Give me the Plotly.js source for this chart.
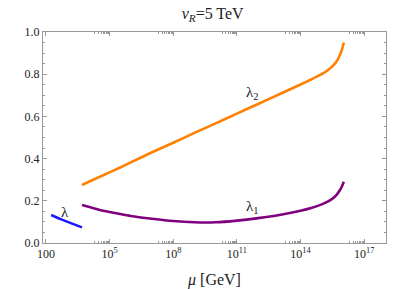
<!DOCTYPE html>
<html>
<head>
<meta charset="utf-8">
<script src="https://cdn.plot.ly/plotly-3.0.1.min.js"></script>
<style>
  html, body { margin: 0; padding: 0; background: #fff; }
  #plot { width: 409px; height: 289px; }
</style>
</head>
<body>
<div id="plot"></div>
<script>
// running couplings (mu in GeV)
var muLam = [175, 500, 1600, 5000];
var lam = [0.133, 0.113, 0.093, 0.074];

var muHigh = [5e3, 1e4, 3.16e4, 1e5, 3.16e5, 1e6, 1e7, 1e8, 1e9, 1e10, 1e11, 1e12, 1e13, 1e14,
              3.16e14, 1e15, 2e15, 3.16e15, 5e15, 7.1e15, 8.9e15, 1.1e16];
var lam1 = [0.18, 0.172, 0.158, 0.147, 0.137, 0.128, 0.115, 0.104, 0.098, 0.098, 0.106, 0.118, 0.133, 0.153,
            0.166, 0.183, 0.197, 0.21, 0.228, 0.25, 0.268, 0.29];
var lam2 = [0.275, 0.289, 0.312, 0.335, 0.358, 0.382, 0.43, 0.475, 0.522, 0.567, 0.613, 0.659, 0.705, 0.751,
            0.775, 0.80, 0.82, 0.837, 0.86, 0.89, 0.915, 0.95];

var xTickVals = [1e2, 1e5, 1e8, 1e11, 1e14, 1e17];
var xTickText = ["100", "10<sup>5</sup>", "10<sup>8</sup>", "10<sup>11</sup>", "10<sup>14</sup>", "10<sup>17</sup>"];

// minor ticks: the decade just below each major tick
var xMinor = [];
xTickVals.forEach(function (v) {
  for (var k = 2; k <= 9; k++) xMinor.push(k * v / 10);
});

var serif = "Liberation Serif";

var data = [
  { x: muLam, y: lam, mode: "lines", line: { color: "#1a1aff", width: 2.6, shape: "spline" }, hoverinfo: "skip" },
  { x: muHigh, y: lam1, mode: "lines", line: { color: "#800080", width: 2.6, shape: "spline", smoothing: 0.6 }, hoverinfo: "skip" },
  { x: muHigh, y: lam2, mode: "lines", line: { color: "#ff8000", width: 2.6, shape: "spline", smoothing: 0.6 }, hoverinfo: "skip" }
];

var axisCommon = {
  showgrid: false,
  zeroline: false,
  showline: true,
  linecolor: "#999",
  linewidth: 1,
  mirror: "ticks",
  ticks: "inside",
  tickcolor: "#999",
  ticklen: 4,
  tickfont: { family: serif, size: 12, color: "#222" }
};

var layout = {
  width: 409,
  height: 289,
  margin: { l: 43, r: 23, t: 32, b: 46 },
  paper_bgcolor: "#fff",
  plot_bgcolor: "#fff",
  showlegend: false,
  font: { family: serif, color: "#222" },
  title: {
    text: "<i>v</i><sub><i>R</i></sub>=5 TeV",
    font: { family: serif, size: 16, color: "#222" },
    x: 0.52, xanchor: "center",
    y: 0.955, yanchor: "middle"
  },
  xaxis: Object.assign({}, axisCommon, {
    type: "log",
    range: [1.86, 18.03],
    tickmode: "array",
    tickvals: xTickVals,
    ticktext: xTickText,
    minor: { tickmode: "array", tickvals: xMinor, ticks: "inside", ticklen: 2, tickcolor: "#999" },
    title: { text: "<i>μ</i> [GeV]", font: { family: serif, size: 16, color: "#222" }, standoff: 16 }
  }),
  yaxis: Object.assign({}, axisCommon, {
    range: [0, 1],
    tickmode: "linear",
    tick0: 0,
    dtick: 0.2,
    tickformat: ".1f",
    minor: { dtick: 0.05, ticks: "inside", ticklen: 2, tickcolor: "#999" }
  }),
  annotations: [
    { x: Math.log10(800), y: 0.145, xref: "x", yref: "y", text: "λ", showarrow: false,
      font: { family: serif, size: 15, color: "#222" } },
    { x: Math.log10(5.5e11), y: 0.17, xref: "x", yref: "y", text: "λ<sub>1</sub>", showarrow: false,
      font: { family: serif, size: 15, color: "#222" } },
    { x: Math.log10(5.5e11), y: 0.71, xref: "x", yref: "y", text: "λ<sub>2</sub>", showarrow: false,
      font: { family: serif, size: 15, color: "#222" } }
  ]
};

Plotly.newPlot("plot", data, layout, { displayModeBar: false, staticPlot: true });
</script>
</body>
</html>
